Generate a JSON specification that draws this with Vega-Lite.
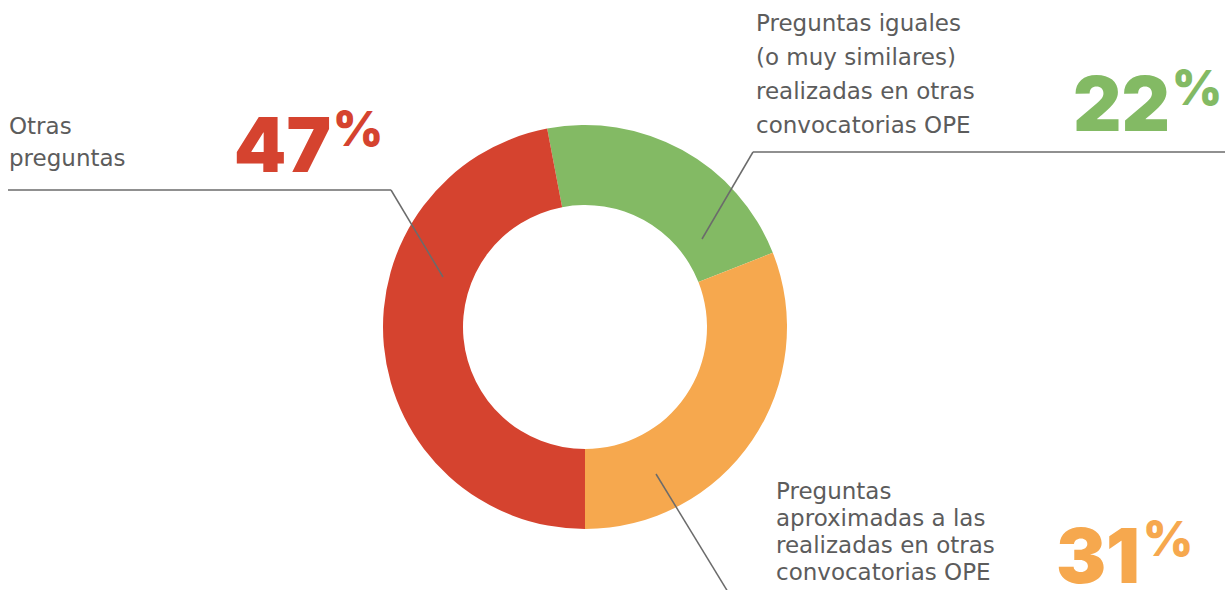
{
  "$schema": "https://vega.github.io/schema/vega-lite/v6.json",
  "width": 1231,
  "height": 590,
  "autosize": {"type": "none"},
  "padding": 0,
  "background": "white",
  "config": {"view": {"stroke": null}},
  "data": {
    "values": [
      {"category": "Preguntas iguales", "label": "Preguntas iguales\n(o muy similares)\nrealizadas en otras\nconvocatorias OPE", "value": 22, "order": 1},
      {"category": "Preguntas aproximadas", "label": "Preguntas\naproximadas a las\nrealizadas en otras\nconvocatorias OPE", "value": 31, "order": 2},
      {"category": "Otras preguntas", "label": "Otras\npreguntas", "value": 47, "order": 3}
    ]
  },
  "layer": [
    {
      "mark": {"type": "arc", "radius": 202, "radius2": 122, "stroke": null},
      "encoding": {
        "x": {"datum": 585, "type": "quantitative", "scale": {"domain": [0, 1231], "nice": false, "zero": false}, "axis": null},
        "y": {"datum": 327, "type": "quantitative", "scale": {"domain": [0, 590], "nice": false, "zero": false, "reverse": true}, "axis": null},
        "theta": {"field": "value", "type": "quantitative", "stack": true, "scale": {"range": [-0.1885, 6.0947]}},
        "order": {"field": "order", "type": "quantitative", "sort": "ascending"},
        "color": {"field": "category", "type": "nominal", "legend": null,
          "scale": {"domain": ["Preguntas iguales", "Preguntas aproximadas", "Otras preguntas"], "range": ["#83BA64", "#F6A84E", "#D5432F"]}}
      }
    },
    {
      "transform": [{"filter": "datum.category === 'Otras preguntas'"}],
      "mark": {"type": "rule", "stroke": "#6b6b6b", "strokeWidth": 1.5},
      "encoding": {
        "x": {"datum": 8, "type": "quantitative", "scale": {"domain": [0, 1231], "nice": false, "zero": false}, "axis": null},
        "x2": {"datum": 391},
        "y": {"datum": 190, "type": "quantitative", "scale": {"domain": [0, 590], "nice": false, "zero": false, "reverse": true}, "axis": null},
        "y2": {"datum": 190}
      }
    },
    {
      "transform": [{"filter": "datum.category === 'Otras preguntas'"}],
      "mark": {"type": "rule", "stroke": "#6b6b6b", "strokeWidth": 1.5},
      "encoding": {
        "x": {"datum": 391, "type": "quantitative", "scale": {"domain": [0, 1231], "nice": false, "zero": false}, "axis": null},
        "x2": {"datum": 443},
        "y": {"datum": 190, "type": "quantitative", "scale": {"domain": [0, 590], "nice": false, "zero": false, "reverse": true}, "axis": null},
        "y2": {"datum": 277}
      }
    },
    {
      "transform": [{"filter": "datum.category === 'Preguntas iguales'"}],
      "mark": {"type": "rule", "stroke": "#6b6b6b", "strokeWidth": 1.5},
      "encoding": {
        "x": {"datum": 753, "type": "quantitative", "scale": {"domain": [0, 1231], "nice": false, "zero": false}, "axis": null},
        "x2": {"datum": 1225},
        "y": {"datum": 152, "type": "quantitative", "scale": {"domain": [0, 590], "nice": false, "zero": false, "reverse": true}, "axis": null},
        "y2": {"datum": 152}
      }
    },
    {
      "transform": [{"filter": "datum.category === 'Preguntas iguales'"}],
      "mark": {"type": "rule", "stroke": "#6b6b6b", "strokeWidth": 1.5},
      "encoding": {
        "x": {"datum": 753, "type": "quantitative", "scale": {"domain": [0, 1231], "nice": false, "zero": false}, "axis": null},
        "x2": {"datum": 702},
        "y": {"datum": 152, "type": "quantitative", "scale": {"domain": [0, 590], "nice": false, "zero": false, "reverse": true}, "axis": null},
        "y2": {"datum": 239}
      }
    },
    {
      "transform": [{"filter": "datum.category === 'Preguntas aproximadas'"}],
      "mark": {"type": "rule", "stroke": "#6b6b6b", "strokeWidth": 1.5},
      "encoding": {
        "x": {"datum": 656, "type": "quantitative", "scale": {"domain": [0, 1231], "nice": false, "zero": false}, "axis": null},
        "x2": {"datum": 728},
        "y": {"datum": 474, "type": "quantitative", "scale": {"domain": [0, 590], "nice": false, "zero": false, "reverse": true}, "axis": null},
        "y2": {"datum": 592}
      }
    },
    {
      "transform": [{"filter": "datum.category === 'Otras preguntas'"}],
      "mark": {"type": "text", "align": "left", "baseline": "alphabetic", "lineBreak": "\n", "lineHeight": 32, "font": "DejaVu Sans", "fontSize": 23, "fill": "#5c5c5c"},
      "encoding": {
        "x": {"datum": 9, "type": "quantitative", "scale": {"domain": [0, 1231], "nice": false, "zero": false}, "axis": null},
        "y": {"datum": 134, "type": "quantitative", "scale": {"domain": [0, 590], "nice": false, "zero": false, "reverse": true}, "axis": null},
        "text": {"field": "label"}
      }
    },
    {
      "transform": [{"filter": "datum.category === 'Preguntas iguales'"}],
      "mark": {"type": "text", "align": "left", "baseline": "alphabetic", "lineBreak": "\n", "lineHeight": 34, "font": "DejaVu Sans", "fontSize": 23, "fill": "#5c5c5c"},
      "encoding": {
        "x": {"datum": 756, "type": "quantitative", "scale": {"domain": [0, 1231], "nice": false, "zero": false}, "axis": null},
        "y": {"datum": 31, "type": "quantitative", "scale": {"domain": [0, 590], "nice": false, "zero": false, "reverse": true}, "axis": null},
        "text": {"field": "label"}
      }
    },
    {
      "transform": [{"filter": "datum.category === 'Preguntas aproximadas'"}],
      "mark": {"type": "text", "align": "left", "baseline": "alphabetic", "lineBreak": "\n", "lineHeight": 27, "font": "DejaVu Sans", "fontSize": 23, "fill": "#5c5c5c"},
      "encoding": {
        "x": {"datum": 776, "type": "quantitative", "scale": {"domain": [0, 1231], "nice": false, "zero": false}, "axis": null},
        "y": {"datum": 499, "type": "quantitative", "scale": {"domain": [0, 590], "nice": false, "zero": false, "reverse": true}, "axis": null},
        "text": {"field": "label"}
      }
    },
    {
      "transform": [{"filter": "datum.category === 'Otras preguntas'"}],
      "mark": {"type": "text", "align": "right", "baseline": "alphabetic", "font": "Inter", "fontWeight": 900, "fontSize": 75, "fill": "#D5432F"},
      "encoding": {
        "x": {"datum": 331, "type": "quantitative", "scale": {"domain": [0, 1231], "nice": false, "zero": false}, "axis": null},
        "y": {"datum": 172, "type": "quantitative", "scale": {"domain": [0, 590], "nice": false, "zero": false, "reverse": true}, "axis": null},
        "text": {"field": "value"}
      }
    },
    {
      "transform": [{"filter": "datum.category === 'Preguntas iguales'"}],
      "mark": {"type": "text", "align": "right", "baseline": "alphabetic", "font": "Inter", "fontWeight": 900, "fontSize": 75, "fill": "#83BA64"},
      "encoding": {
        "x": {"datum": 1170, "type": "quantitative", "scale": {"domain": [0, 1231], "nice": false, "zero": false}, "axis": null},
        "y": {"datum": 131, "type": "quantitative", "scale": {"domain": [0, 590], "nice": false, "zero": false, "reverse": true}, "axis": null},
        "text": {"field": "value"}
      }
    },
    {
      "transform": [{"filter": "datum.category === 'Preguntas aproximadas'"}],
      "mark": {"type": "text", "align": "right", "baseline": "alphabetic", "font": "Inter", "fontWeight": 900, "fontSize": 75, "fill": "#F6A84E"},
      "encoding": {
        "x": {"datum": 1140, "type": "quantitative", "scale": {"domain": [0, 1231], "nice": false, "zero": false}, "axis": null},
        "y": {"datum": 583, "type": "quantitative", "scale": {"domain": [0, 590], "nice": false, "zero": false, "reverse": true}, "axis": null},
        "text": {"field": "value"}
      }
    },
    {
      "transform": [{"filter": "datum.category === 'Otras preguntas'"}],
      "mark": {"type": "text", "align": "left", "baseline": "alphabetic", "font": "Inter", "fontWeight": 900, "fontSize": 48, "fill": "#D5432F", "text": "%"},
      "encoding": {
        "x": {"datum": 333, "type": "quantitative", "scale": {"domain": [0, 1231], "nice": false, "zero": false}, "axis": null},
        "y": {"datum": 146, "type": "quantitative", "scale": {"domain": [0, 590], "nice": false, "zero": false, "reverse": true}, "axis": null}
      }
    },
    {
      "transform": [{"filter": "datum.category === 'Preguntas iguales'"}],
      "mark": {"type": "text", "align": "left", "baseline": "alphabetic", "font": "Inter", "fontWeight": 900, "fontSize": 48, "fill": "#83BA64", "text": "%"},
      "encoding": {
        "x": {"datum": 1172, "type": "quantitative", "scale": {"domain": [0, 1231], "nice": false, "zero": false}, "axis": null},
        "y": {"datum": 105, "type": "quantitative", "scale": {"domain": [0, 590], "nice": false, "zero": false, "reverse": true}, "axis": null}
      }
    },
    {
      "transform": [{"filter": "datum.category === 'Preguntas aproximadas'"}],
      "mark": {"type": "text", "align": "left", "baseline": "alphabetic", "font": "Inter", "fontWeight": 900, "fontSize": 48, "fill": "#F6A84E", "text": "%"},
      "encoding": {
        "x": {"datum": 1143, "type": "quantitative", "scale": {"domain": [0, 1231], "nice": false, "zero": false}, "axis": null},
        "y": {"datum": 556, "type": "quantitative", "scale": {"domain": [0, 590], "nice": false, "zero": false, "reverse": true}, "axis": null}
      }
    }
  ]
}
